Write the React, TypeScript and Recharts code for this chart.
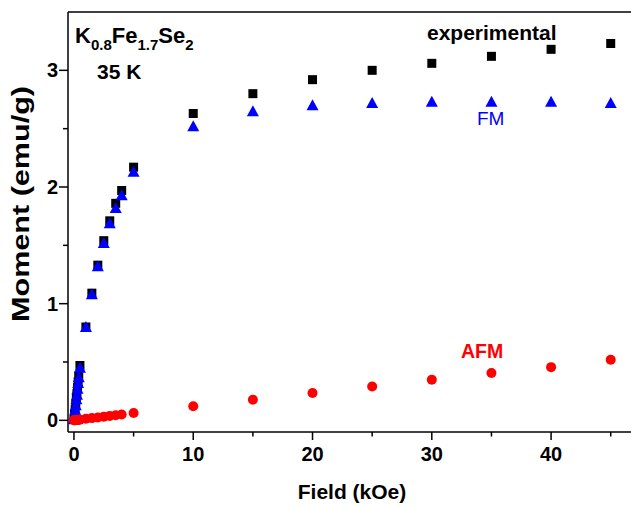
import React from 'react';
import { ScatterChart, Scatter, XAxis, YAxis, ReferenceLine } from 'recharts';

// field in kOe, moment in emu/g
const expField = [0, 0.05, 0.1, 0.15, 0.2, 0.25, 0.3, 0.35, 0.4, 0.5, 1, 1.5, 2, 2.5, 3, 3.5, 4, 5, 10, 15, 20, 25, 30, 35, 40, 45];
const expMoment = [0.01, 0.05, 0.09, 0.14, 0.19, 0.23, 0.28, 0.33, 0.38, 0.47, 0.8, 1.09, 1.33, 1.54, 1.71, 1.86, 1.97, 2.17, 2.63, 2.8, 2.92, 3.0, 3.06, 3.12, 3.18, 3.23];

const fmField = [0, 0.05, 0.1, 0.15, 0.2, 0.25, 0.3, 0.35, 0.4, 0.5, 1, 1.5, 2, 2.5, 3, 3.5, 4, 5, 10, 15, 20, 25, 30, 35, 40, 45];
const fmMoment = [0.01, 0.05, 0.09, 0.13, 0.18, 0.22, 0.27, 0.32, 0.37, 0.45, 0.8, 1.08, 1.32, 1.52, 1.69, 1.82, 1.93, 2.13, 2.52, 2.65, 2.7, 2.72, 2.73, 2.73, 2.73, 2.72];

const afmField = [0, 0.05, 0.1, 0.2, 0.3, 0.4, 0.5, 1, 1.5, 2, 2.5, 3, 3.5, 4, 5, 10, 15, 20, 25, 30, 35, 40, 45];
const afmMoment = [0, 0.001, 0.001, 0.003, 0.004, 0.005, 0.006, 0.013, 0.019, 0.025, 0.031, 0.038, 0.044, 0.05, 0.063, 0.12, 0.177, 0.234, 0.29, 0.348, 0.405, 0.456, 0.52];

const xTicks = [0, 5, 10, 15, 20, 25, 30, 35, 40, 45];
const yTicks = [0, 0.5, 1, 1.5, 2, 2.5, 3];

const toPoints = (xs: number[], ys: number[]) => xs.map((x, i) => ({ x, y: ys[i] }));

const FONT = '"Liberation Sans", Arial, sans-serif';

const Square = ({ cx, cy }: any) => <rect x={cx - 4.5} y={cy - 4.5} width={9} height={9} fill="#000" />;
const Triangle = ({ cx, cy }: any) => (
  <polygon points={`${cx},${cy - 6} ${cx - 6},${cy + 5} ${cx + 6},${cy + 5}`} fill="#0000ff" />
);
const Dot = ({ cx, cy }: any) => <circle cx={cx} cy={cy} r={5} fill="#ff0000" />;

const XTick = ({ x, y, payload }: any) => {
  const major = payload.value % 10 === 0;
  return (
    <g>
      <line x1={x} x2={x} y1={y} y2={y + (major ? 8 : 4.5)} stroke="#000" strokeWidth={1.5} />
      {major && (
        <text x={x} y={y + 29} textAnchor="middle" fontFamily={FONT} fontWeight="bold" fontSize={20} fill="#000">
          {payload.value}
        </text>
      )}
    </g>
  );
};

const YTick = ({ x, y, payload }: any) => {
  const major = Number.isInteger(payload.value);
  return (
    <g>
      <line x1={x} x2={x - (major ? 9 : 5)} y1={y} y2={y} stroke="#000" strokeWidth={1.5} />
      {major && (
        <text x={x - 10} y={y + 7} textAnchor="end" fontFamily={FONT} fontWeight="bold" fontSize={20} fill="#000">
          {payload.value}
        </text>
      )}
    </g>
  );
};

export default function App() {
  return (
    <div style={{ position: 'absolute', left: 0, top: 0, width: 631, height: 507, background: '#fff' }}>
      <ScatterChart width={631} height={507} margin={{ top: 12, right: 0, left: 0, bottom: 0 }}>
        <XAxis
          type="number"
          dataKey="x"
          domain={[-0.5, 46.7]}
          ticks={xTicks}
          interval={0}
          allowDataOverflow
          height={75}
          tickSize={0}
          tickMargin={0}
          tickLine={false}
          tick={<XTick />}
          axisLine={{ stroke: '#000', strokeWidth: 1.5 }}
        />
        <YAxis
          type="number"
          dataKey="y"
          domain={[-0.1, 3.5]}
          ticks={yTicks}
          interval={0}
          allowDataOverflow
          width={68}
          tickSize={0}
          tickMargin={0}
          tickLine={false}
          tick={<YTick />}
          axisLine={{ stroke: '#000', strokeWidth: 1.5 }}
        />
        <ReferenceLine y={3.5} stroke="#000" strokeWidth={1.5} ifOverflow="visible" />
        <Scatter data={toPoints(expField, expMoment)} shape={<Square />} isAnimationActive={false} />
        <Scatter data={toPoints(fmField, fmMoment)} shape={<Triangle />} isAnimationActive={false} />
        <Scatter data={toPoints(afmField, afmMoment)} shape={<Dot />} isAnimationActive={false} />
      </ScatterChart>
      <svg width={631} height={507} style={{ position: 'absolute', left: 0, top: 0, pointerEvents: 'none' }}>
        <text x={75} y={43} fontFamily={FONT} fontWeight="bold" fontSize={22} fill="#000">
          K<tspan fontSize={15} dy={7}>0.8</tspan>
          <tspan dy={-7}>Fe</tspan>
          <tspan fontSize={15} dy={7}>1.7</tspan>
          <tspan dy={-7}>Se</tspan>
          <tspan fontSize={15} dy={7}>2</tspan>
        </text>
        <text x={97} y={79} fontFamily={FONT} fontWeight="bold" fontSize={21} fill="#000">35 K</text>
        <text x={427} y={40} fontFamily={FONT} fontWeight="bold" fontSize={21} fill="#000">experimental</text>
        <text x={477} y={125} fontFamily={FONT} fontSize={19} fill="#0000ff">FM</text>
        <text x={461} y={358} fontFamily={FONT} fontWeight="bold" fontSize={19.5} fill="#ff0000">AFM</text>
        <text x={352} y={499} textAnchor="middle" fontFamily={FONT} fontWeight="bold" fontSize={21} fill="#000">Field (kOe)</text>
        <text
          x={0}
          y={0}
          transform="translate(29,204) rotate(-90)"
          textAnchor="middle"
          textLength={236}
          lengthAdjust="spacingAndGlyphs"
          fontFamily={FONT}
          fontWeight="bold"
          fontSize={23}
          fill="#000"
        >
          Moment (emu/g)
        </text>
      </svg>
    </div>
  );
}
